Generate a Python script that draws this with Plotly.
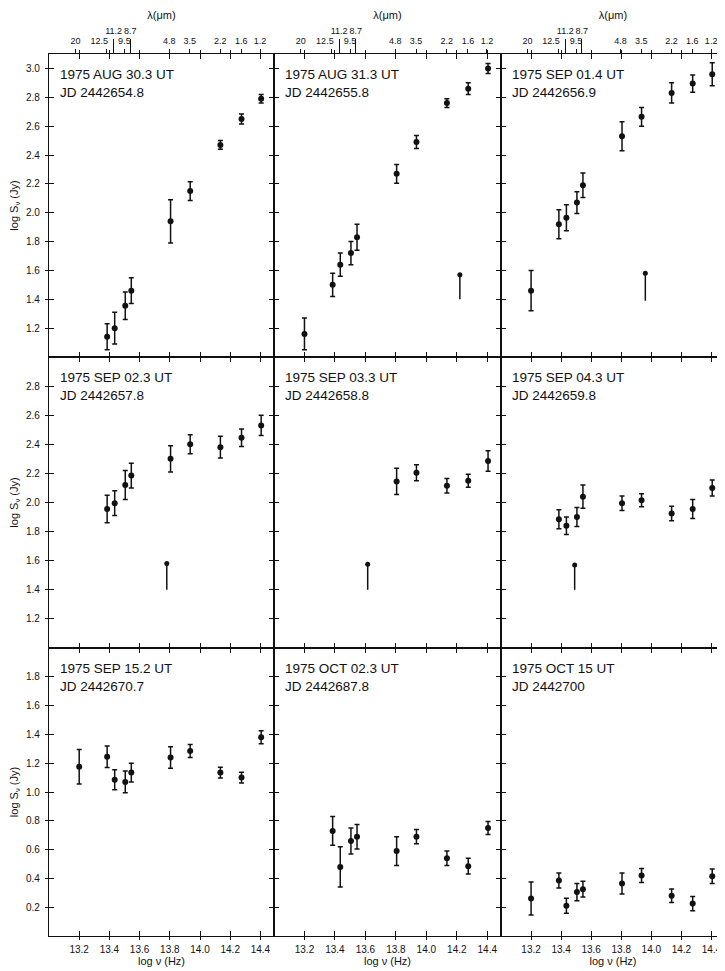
import math
import plotly.graph_objects as go

# ---------------- data ----------------
LOGNU = [13.200, 13.385, 13.435, 13.505, 13.545, 13.805, 13.935, 14.135, 14.275, 14.405]

PANEL_DATES = ["1975 AUG 30.3 UT", "1975 AUG 31.3 UT", "1975 SEP 01.4 UT",
               "1975 SEP 02.3 UT", "1975 SEP 03.3 UT", "1975 SEP 04.3 UT",
               "1975 SEP 15.2 UT", "1975 OCT 02.3 UT", "1975 OCT 15 UT"]
PANEL_JD = ["JD 2442654.8", "JD 2442655.8", "JD 2442656.9",
            "JD 2442657.8", "JD 2442658.8", "JD 2442659.8",
            "JD 2442670.7", "JD 2442687.8", "JD 2442700"]

Y_AUG30 = [None, 1.14, 1.20, 1.355, 1.46, 1.94, 2.15, 2.47, 2.65, 2.79]
E_AUG30 = [None, 0.09, 0.11, 0.095, 0.09, 0.15, 0.065, 0.03, 0.035, 0.03]
Y_AUG31 = [1.16, 1.50, 1.64, 1.72, 1.83, 2.27, 2.49, 2.76, 2.86, 3.00]
E_AUG31 = [0.11, 0.08, 0.08, 0.08, 0.09, 0.065, 0.045, 0.03, 0.04, 0.035]
Y_SEP01 = [1.46, 1.92, 1.965, 2.07, 2.19, 2.53, 2.665, 2.83, 2.895, 2.96]
E_SEP01 = [0.14, 0.10, 0.09, 0.075, 0.085, 0.10, 0.065, 0.07, 0.06, 0.08]
Y_SEP02 = [None, 1.955, 1.995, 2.12, 2.185, 2.30, 2.40, 2.38, 2.445, 2.53]
E_SEP02 = [None, 0.095, 0.085, 0.10, 0.085, 0.09, 0.065, 0.075, 0.06, 0.07]
Y_SEP03 = [None, None, None, None, None, 2.145, 2.205, 2.115, 2.15, 2.285]
E_SEP03 = [None, None, None, None, None, 0.09, 0.055, 0.05, 0.045, 0.07]
Y_SEP04 = [None, 1.885, 1.84, 1.90, 2.04, 1.995, 2.015, 1.925, 1.955, 2.10]
E_SEP04 = [None, 0.065, 0.06, 0.065, 0.08, 0.05, 0.045, 0.05, 0.065, 0.055]
Y_SEP15 = [1.175, 1.245, 1.085, 1.07, 1.135, 1.24, 1.285, 1.135, 1.10, 1.38]
E_SEP15 = [0.12, 0.075, 0.07, 0.075, 0.065, 0.075, 0.045, 0.037, 0.037, 0.045]
Y_OCT02 = [None, 0.73, 0.48, 0.66, 0.69, 0.59, 0.69, 0.54, 0.485, 0.75]
E_OCT02 = [None, 0.10, 0.14, 0.09, 0.085, 0.10, 0.05, 0.05, 0.055, 0.045]
Y_OCT15 = [0.26, 0.385, 0.21, 0.305, 0.325, 0.365, 0.42, 0.28, 0.225, 0.415]
E_OCT15 = [0.115, 0.052, 0.052, 0.06, 0.055, 0.073, 0.048, 0.047, 0.05, 0.05]

PANEL_Y = [Y_AUG30, Y_AUG31, Y_SEP01, Y_SEP02, Y_SEP03, Y_SEP04, Y_SEP15, Y_OCT02, Y_OCT15]
PANEL_E = [E_AUG30, E_AUG31, E_SEP01, E_SEP02, E_SEP03, E_SEP04, E_SEP15, E_OCT02, E_OCT15]

# upper limits (x, top value, downward extent) per panel
UL_X = [None, 14.22, 13.96, 13.78, 13.615, 13.49, None, None, None]
UL_Y = [None, 1.57, 1.58, 1.58, 1.575, 1.57, None, None, None]
UL_LEN = [None, 0.17, 0.19, 0.18, 0.175, 0.17, None, None, None]

ROW_YRANGE = [[1.0, 3.1], [1.0, 3.0], [0.0, 2.0]]
ROW_YTICKS = [[1.2, 1.4, 1.6, 1.8, 2.0, 2.2, 2.4, 2.6, 2.8, 3.0],
              [1.2, 1.4, 1.6, 1.8, 2.0, 2.2, 2.4, 2.6, 2.8],
              [0.2, 0.4, 0.6, 0.8, 1.0, 1.2, 1.4, 1.6, 1.8]]
ROW_YTEXT = [["1.2", "1.4", "1.6", "1.8", "2.0", "2.2", "2.4", "2.6", "2.8", "3.0"],
             ["1.2", "1.4", "1.6", "1.8", "2.0", "2.2", "2.4", "2.6", "2.8"],
             ["0.2", "0.4", "0.6", "0.8", "1.0", "1.2", "1.4", "1.6", "1.8"]]
X_TICKS = [13.2, 13.4, 13.6, 13.8, 14.0, 14.2, 14.4]
X_TEXT = ["13.2", "13.4", "13.6", "13.8", "14.0", "14.2", "14.4"]
X_RANGE = [13.0, 14.49]

LAM_SHORT = [20, 9.5, 4.8, 3.5, 2.2, 1.6, 1.2]
LAM_SHORT_TXT = ["20", "9.5", "4.8", "3.5", "2.2", "1.6", "1.2"]
LAM_SHIFTED = [12.5]
LAM_SHIFTED_TXT = ["12.5"]
LAM_LONG = [11.2, 8.7]
LAM_LONG_TXT = ["11.2", "8.7"]


def lam_to_lognu(lam_um):
    return math.log10(2.998e14 / lam_um)


# ---------------- layout geometry ----------------
# the page body adds an 8 px offset, so work in page pixels minus 8
OFF = 8
W, H = 725 - OFF, 971 - OFF
COL_PX = [49 - OFF, 274 - OFF, 501 - OFF, 725 - OFF]
ROW_PX = [54 - OFF, 357 - OFF, 648 - OFF, 936 - OFF]
ML, MR, MT, MB = COL_PX[0], W - COL_PX[3], ROW_PX[0], H - ROW_PX[3]
PW, PH = W - ML - MR, H - MT - MB


def xdom(c):
    return [(COL_PX[c] - ML) / PW, (COL_PX[c + 1] - ML) / PW]


def ydom(r):
    return [1 - (ROW_PX[r + 1] - MT) / PH, 1 - (ROW_PX[r] - MT) / PH]


FONT = "Liberation Sans"
BLACK = "#111111"
LW = 1.3

fig = go.Figure()
layout = dict(
    width=W, height=H,
    margin=dict(l=ML, r=MR, t=MT, b=MB, autoexpand=False),
    paper_bgcolor="white", plot_bgcolor="white",
    showlegend=False,
    font=dict(family=FONT, color=BLACK, size=10),
)
annotations = []


def sfx(k):
    return "" if k == 0 else str(k + 1)


for k in range(9):
    r, c = divmod(k, 3)
    s = sfx(k)
    xs = [LOGNU[i] for i in range(10) if PANEL_Y[k][i] is not None]
    ys = [PANEL_Y[k][i] for i in range(10) if PANEL_Y[k][i] is not None]
    es = [PANEL_E[k][i] for i in range(10) if PANEL_Y[k][i] is not None]
    fig.add_trace(go.Scatter(
        x=xs, y=ys, mode="markers", xaxis="x" + s, yaxis="y" + s,
        marker=dict(size=6, color=BLACK),
        error_y=dict(type="data", array=es, visible=True, color=BLACK,
                     thickness=1.5, width=2.5),
        cliponaxis=False, hoverinfo="skip"))
    if UL_X[k] is not None:
        fig.add_trace(go.Scatter(
            x=[UL_X[k]], y=[UL_Y[k]], mode="markers", xaxis="x" + s, yaxis="y" + s,
            marker=dict(size=5, color=BLACK, symbol="circle"),
            error_y=dict(type="data", symmetric=False, array=[0], arrayminus=[UL_LEN[k]],
                         visible=True, color=BLACK, thickness=1.5, width=0),
            hoverinfo="skip"))

    xa = dict(domain=xdom(c), anchor="y" + s, range=X_RANGE,
              tickmode="array", tickvals=X_TICKS, ticktext=X_TEXT,
              showticklabels=(r == 2), ticks="inside", ticklen=5, tickwidth=1.3,
              tickcolor=BLACK, showline=True, linewidth=LW, linecolor=BLACK,
              mirror="ticks", showgrid=False, zeroline=False, tickangle=0,
              ticklabelstandoff=4,
              tickfont=dict(size=10, family=FONT, color=BLACK))
    if r == 2:
        xa["title"] = dict(text="log ν (Hz)", font=dict(size=11, family=FONT, color=BLACK),
                           standoff=3)
    ya = dict(domain=ydom(r), anchor="x" + s, range=ROW_YRANGE[r],
              tickmode="array", tickvals=ROW_YTICKS[r], ticktext=ROW_YTEXT[r],
              showticklabels=(c == 0), ticks="inside", ticklen=5, tickwidth=1.3,
              tickcolor=BLACK, showline=True, linewidth=LW, linecolor=BLACK,
              mirror="ticks", showgrid=False, zeroline=False, ticklabelstandoff=6,
              tickfont=dict(size=10, family=FONT, color=BLACK))
    if c == 0:
        ya["title"] = dict(text="log S<sub>ν</sub> (Jy)",
                           font=dict(size=11, family=FONT, color=BLACK), standoff=10)
    layout["xaxis" + s] = xa
    layout["yaxis" + s] = ya

    annotations.append(dict(
        text=PANEL_DATES[k] + "<br>" + PANEL_JD[k],
        xref="x" + s + " domain", yref="y" + s + " domain", x=0, y=1,
        xanchor="left", yanchor="top", xshift=9, yshift=-11, align="left",
        showarrow=False, font=dict(size=13.5, family=FONT, color=BLACK)))

# top wavelength axes (row 1)
for c in range(3):
    s = sfx(c)
    specs = ((10 + c, LAM_SHORT, LAM_SHORT_TXT, 4, 0),
             (22 + c, LAM_SHIFTED, LAM_SHIFTED_TXT, 4, -7),
             (13 + c, LAM_LONG, LAM_LONG_TXT, 14, 0))
    for n, lams, txt, tl, shift in specs:
        ax = dict(overlaying="x" + s, anchor="y" + s, side="top", range=X_RANGE,
                  tickmode="array", tickvals=[lam_to_lognu(v) for v in lams], ticktext=txt,
                  ticks="outside", ticklen=tl, tickwidth=1.2, tickcolor=BLACK,
                  showline=False, showgrid=False, zeroline=False, tickangle=0,
                  ticklabelstandoff=1, ticklabelshift=shift,
                  tickfont=dict(size=9, family=FONT, color=BLACK))
        if n == 13 + c:
            ax["title"] = dict(text="λ(μm)", font=dict(size=11, family=FONT, color=BLACK),
                               standoff=4)
        layout["xaxis" + str(n)] = ax
        fig.add_trace(go.Scatter(x=[], y=[], xaxis="x" + str(n), yaxis="y" + s,
                                 mode="markers", hoverinfo="skip"))

# outward halves of the crossing ticks on the outer frame
for c in range(3):
    k = 6 + c
    n = 16 + c
    layout["xaxis" + str(n)] = dict(
        overlaying="x" + sfx(k), anchor="y" + sfx(k), side="bottom", range=X_RANGE,
        tickmode="array", tickvals=X_TICKS, showticklabels=False,
        ticks="outside", ticklen=3, tickwidth=1.3, tickcolor=BLACK,
        showline=False, showgrid=False, zeroline=False)
    fig.add_trace(go.Scatter(x=[], y=[], xaxis="x" + str(n), yaxis="y" + sfx(k),
                             mode="markers", hoverinfo="skip"))
    k = c
    n = 19 + c
    layout["xaxis" + str(n)] = dict(
        overlaying="x" + sfx(k), anchor="y" + sfx(k), side="top", range=X_RANGE,
        tickmode="array", tickvals=X_TICKS, showticklabels=False,
        ticks="outside", ticklen=3, tickwidth=1.3, tickcolor=BLACK,
        showline=False, showgrid=False, zeroline=False)
    fig.add_trace(go.Scatter(x=[], y=[], xaxis="x" + str(n), yaxis="y" + sfx(k),
                             mode="markers", hoverinfo="skip"))

for r in range(3):
    k = 3 * r
    n = 10 + r
    layout["yaxis" + str(n)] = dict(
        overlaying="y" + sfx(k), anchor="x" + sfx(k), side="left", range=ROW_YRANGE[r],
        tickmode="array", tickvals=ROW_YTICKS[r], showticklabels=False,
        ticks="outside", ticklen=3, tickwidth=1.3, tickcolor=BLACK,
        showline=False, showgrid=False, zeroline=False)
    fig.add_trace(go.Scatter(x=[], y=[], xaxis="x" + sfx(k), yaxis="y" + str(n),
                             mode="markers", hoverinfo="skip"))

layout["annotations"] = annotations
fig.update_layout(**layout)
fig.write_html("out.html")
